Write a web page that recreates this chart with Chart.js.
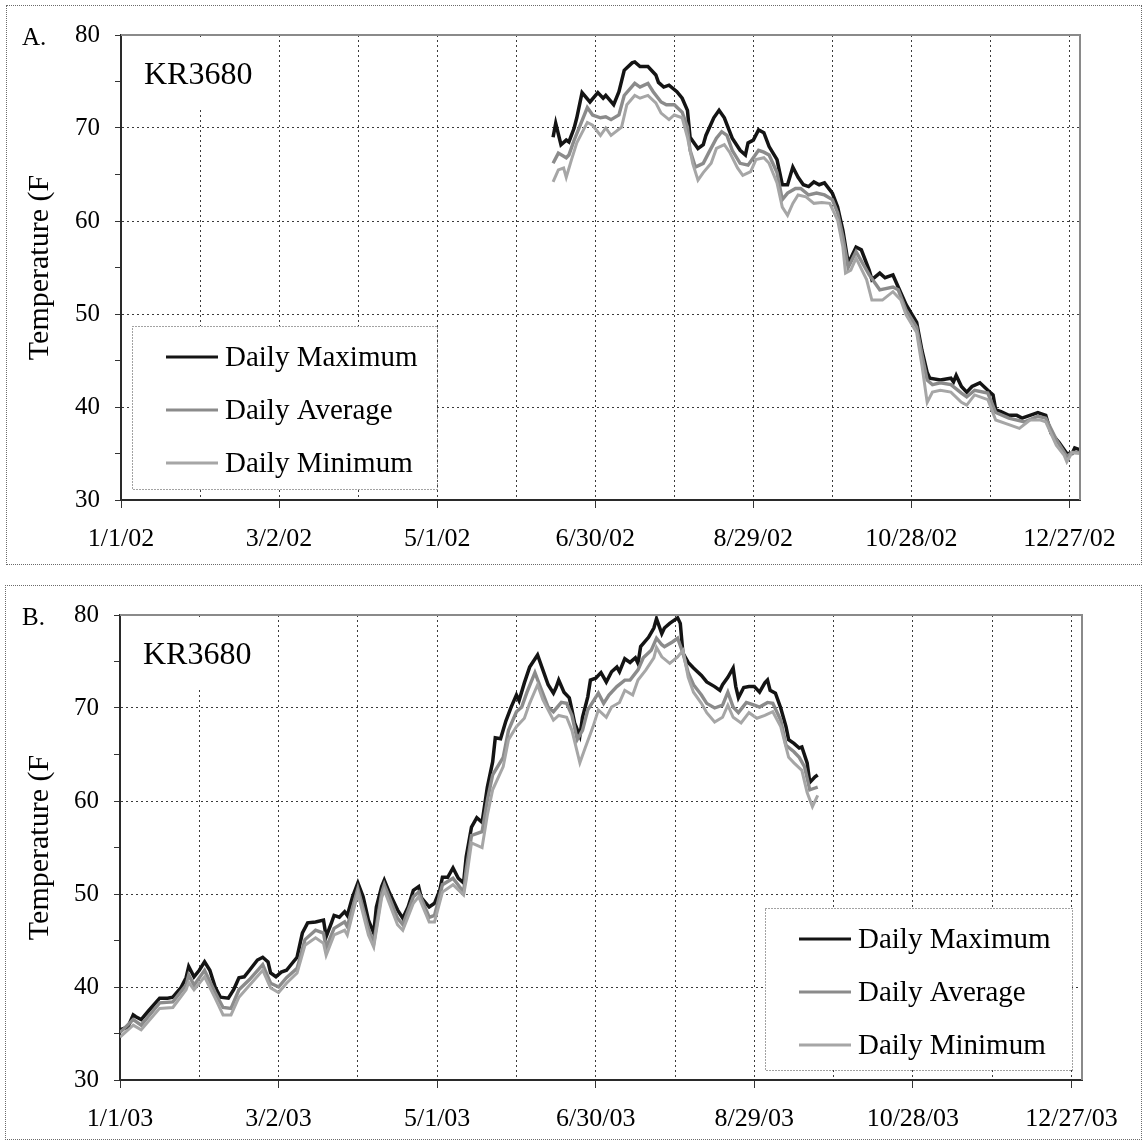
<!DOCTYPE html>
<html>
<head>
<meta charset="utf-8">
<title>KR3680 daily temperature</title>
<script src="https://cdn.jsdelivr.net/npm/chart.js@4.4.1/dist/chart.umd.min.js"></script>
<style>
  html, body { margin: 0; padding: 0; background: #fff; }
  body { width: 1142px; height: 1140px; position: relative; overflow: hidden; }
  .frame { position: absolute; border: 1px dotted #6a6a6a; box-sizing: border-box; }
  canvas { position: absolute; left: 0; }
</style>
</head>
<body>
<div class="frame" style="left:6px;top:5px;width:1136px;height:560px"></div>
<div class="frame" style="left:5px;top:585px;width:1137px;height:555px"></div>
<canvas id="chartA" width="1142" height="565" style="top:0"></canvas>
<canvas id="chartB" width="1142" height="560" style="top:580px"></canvas>
<script>
// ---- axis labels -------------------------------------------------------
const xLabelsA = ['1/1/02', '3/2/02', '5/1/02', '6/30/02', '8/29/02', '10/28/02', '12/27/02'];
const xLabelsB = ['1/1/03', '3/2/03', '5/1/03', '6/30/03', '8/29/03', '10/28/03', '12/27/03'];
const yLabels = ['30', '40', '50', '60', '70', '80'];
const seriesNames = ['Daily Maximum', 'Daily Average', 'Daily Minimum'];
const stationName = 'KR3680';
const axisTitle = 'Temperature (F';

// ---- 2002 record (day of year, deg F) -----------------------------------
const daysMaxA = [164,165,167,169,170,172,173,175,178,181,183,184,187,189,191,194,195,197,200,203,204,206,208,211,213,215,216,219,221,222,225,227,229,232,235,237,238,240,242,244,246,249,251,253,255,257,259,261,263,265,267,270,272,274,276,277,279,281,284,285,288,290,293,295,298,302,304,306,307,311,315,316,317,319,321,323,326,329,331,332,334,337,340,342,345,348,351,353,356,359,361,362,364];
const maxA = [69.0,70.5,68.2,68.7,68.5,70.0,71.1,73.8,72.8,73.8,73.2,73.5,72.5,73.9,76.2,77.0,77.1,76.6,76.6,75.7,74.9,74.4,74.6,73.9,73.2,71.9,69.0,67.8,68.2,69.2,71.1,71.9,71.1,68.9,67.6,67.1,68.4,68.7,69.8,69.5,68.0,66.6,63.9,63.9,65.8,64.7,63.9,63.7,64.2,63.9,64.1,63.0,61.5,59.0,55.5,56.0,57.2,56.9,54.7,53.7,54.4,53.9,54.2,52.9,51.0,49.1,46.1,43.7,43.1,42.9,43.1,42.7,43.4,42.2,41.6,42.2,42.6,41.8,41.3,39.7,39.5,39.1,39.1,38.8,39.1,39.4,39.1,37.2,36.2,35.0,35.0,35.6,35.4];

const daysAvgA = [164,166,169,170,172,174,177,179,182,184,186,189,191,195,197,200,202,205,207,210,213,215,216,218,221,223,226,228,230,232,235,238,240,242,244,246,249,251,253,256,258,261,264,267,270,272,274,276,279,284,288,293,295,298,302,304,306,308,311,315,319,321,324,329,332,337,343,348,351,355,359,361,364];
const avgA = [66.2,67.3,66.8,67.1,68.7,70.1,72.2,71.4,71.1,71.2,70.9,71.4,73.5,74.8,74.4,74.8,73.9,72.8,72.5,72.5,71.7,70.1,67.6,65.8,66.2,67.3,68.9,69.6,69.2,67.6,66.2,66.0,66.8,67.6,67.4,67.1,65.2,62.3,63.0,63.5,63.5,62.8,63.0,62.8,62.3,60.9,58.3,55.0,56.7,54.2,52.6,52.9,52.6,50.4,48.6,45.6,42.9,42.4,42.6,42.4,41.5,41.1,41.8,41.5,39.4,38.8,38.4,39.0,38.8,36.5,34.7,35.1,35.1];

const daysMinA = [164,166,168,169,171,173,177,179,182,184,186,190,192,195,197,200,203,205,208,210,213,215,217,219,221,224,226,229,231,234,236,239,241,244,246,249,251,253,255,257,260,263,266,269,272,274,275,277,279,283,285,289,293,296,298,302,304,306,308,311,315,319,321,324,329,332,337,341,345,349,351,355,358,359,361,364];
const minA = [64.2,65.5,65.7,64.7,66.6,68.4,70.6,70.3,69.2,70.0,69.2,70.1,72.5,73.5,73.2,73.5,72.7,71.6,70.9,71.4,71.1,69.0,66.2,64.4,65.2,66.2,67.8,68.2,67.4,65.7,64.9,65.3,66.6,66.8,66.2,64.1,61.5,60.6,61.9,62.8,62.6,61.9,62.0,61.9,60.1,57.2,54.4,54.7,56.0,53.7,51.5,51.5,52.4,51.5,49.9,48.0,44.5,40.5,41.6,41.8,41.6,40.5,40.2,41.3,40.8,38.6,38.1,37.7,38.6,38.6,38.4,35.9,34.8,34.1,35.1,35.0];

// ---- 2003 record (day of year, deg F) -----------------------------------
const daysMaxB = [0,3,5,6,8,11,15,18,20,23,25,26,28,30,32,34,36,38,41,43,45,47,49,52,54,56,57,59,61,63,65,67,69,71,74,77,78,80,81,83,85,86,88,90,92,94,96,97,99,100,102,105,107,109,111,113,114,117,119,121,122,124,126,128,130,131,133,135,137,139,141,142,144,146,148,150,151,153,155,158,160,162,164,165,166,168,170,171,172,174,175,177,178,180,182,184,186,188,189,191,193,195,196,197,200,202,203,205,206,208,211,212,213,215,217,220,222,225,227,228,230,232,233,234,236,238,240,242,244,245,246,248,250,252,253,255,257,258,260,261,263,264];
const maxB = [35.4,35.7,37.0,36.8,36.5,37.5,38.8,38.8,38.9,39.9,41.0,42.2,41.1,41.8,42.7,41.8,40.0,38.9,38.8,39.7,41.0,41.1,41.8,42.9,43.2,42.7,41.5,41.1,41.6,41.8,42.5,43.2,45.8,46.9,47.0,47.2,45.4,46.9,47.7,47.5,48.1,47.7,49.7,51.2,49.7,47.2,45.8,48.6,50.8,51.5,50.1,48.3,47.4,48.6,50.4,50.8,49.6,48.6,49.0,50.4,51.8,51.8,52.8,51.7,51.2,54.0,57.2,58.2,57.7,61.5,64.2,66.8,66.7,68.6,70.1,71.4,70.8,72.7,74.4,75.7,74.1,72.5,71.6,72.2,73.0,71.7,71.1,69.8,68.4,67.0,69.0,71.2,73.0,73.2,73.8,72.8,73.9,74.4,73.9,75.3,74.9,75.4,74.8,76.6,77.6,78.6,79.6,78.0,78.6,79.1,79.7,79.1,75.9,74.9,74.3,73.5,72.8,72.3,71.9,72.5,73.3,74.3,72.3,71.1,72.2,72.3,72.3,71.7,72.7,73.0,71.9,71.6,70.0,68.0,66.6,66.2,65.7,65.8,64.1,62.0,62.6,62.8];

const daysAvgB = [0,5,8,15,20,25,26,28,32,36,39,42,45,49,54,57,60,63,67,70,74,77,78,81,85,86,90,94,96,99,100,105,107,111,113,117,119,122,126,130,131,133,137,139,141,145,147,150,152,154,157,159,162,164,167,169,171,173,175,177,181,183,185,188,191,193,196,198,201,203,205,206,209,211,213,215,217,220,222,225,228,230,232,234,237,240,242,245,247,250,252,255,257,259,261,263,264];
const avgB = [35.1,36.5,35.9,38.3,38.4,40.2,41.3,40.2,41.8,39.4,37.8,37.7,39.7,40.8,42.4,40.4,40.0,41.0,42.0,45.1,46.1,45.8,44.2,46.3,47.0,46.5,50.6,46.3,44.7,50.1,51.0,47.4,46.7,49.7,50.2,47.5,47.7,51.0,51.7,50.2,52.6,56.3,56.7,60.1,62.8,64.7,67.6,69.6,70.1,71.7,73.8,72.3,70.1,69.6,70.6,70.5,69.2,66.6,67.6,69.8,71.6,70.5,71.4,72.3,73.0,73.0,74.1,75.4,76.2,77.5,76.8,76.6,77.1,77.5,75.9,73.8,72.5,71.4,70.5,70.0,70.3,71.7,70.1,69.5,70.6,70.3,70.1,70.6,70.5,68.7,66.0,65.3,64.7,63.7,61.2,61.4,61.5];

const daysMinB = [0,5,8,15,20,25,26,28,32,36,39,42,45,49,54,57,60,63,67,70,74,77,78,81,85,86,90,94,96,99,100,105,107,111,113,117,119,122,126,130,131,133,137,139,141,145,147,150,153,155,158,160,164,166,169,171,174,176,179,181,184,186,189,191,194,196,199,202,203,205,208,211,213,215,217,220,222,225,228,230,232,235,238,241,244,247,250,253,255,258,260,262,264];
const minB = [34.6,35.9,35.4,37.7,37.8,39.7,40.5,39.7,41.1,38.8,37.0,37.0,38.9,40.2,41.8,39.9,39.4,40.4,41.5,44.5,45.3,44.7,43.4,45.6,46.1,45.6,50.1,45.6,44.3,49.6,50.4,46.7,46.1,49.0,49.7,47.0,47.0,50.2,51.0,49.9,51.5,55.5,55.0,58.5,61.2,63.7,66.6,68.0,68.9,70.5,72.5,70.9,68.7,69.2,69.0,67.6,64.1,65.7,68.0,69.8,69.0,70.1,70.6,71.9,71.4,73.0,74.1,75.4,76.5,75.5,74.8,75.5,76.2,73.3,71.7,70.5,69.5,68.5,69.0,70.3,69.0,68.4,69.5,68.9,69.2,69.6,68.0,64.7,64.1,63.3,60.9,59.4,60.6];

// ---- styling -----------------------------------------------------------
const SERIF = '"Liberation Serif", "Times New Roman", serif';
const lineColors = ['#141414', '#8b8b8b', '#a6a6a6'];
const lineWidths = [3.5, 3.4, 3];
const X_TICKS = [0, 30, 60, 90, 120, 150, 180, 210, 240, 270, 300, 330, 360];
const Y_TICKS = [30, 35, 40, 45, 50, 55, 60, 65, 70, 75, 80];

function zip(days, vals) {
  return days.map((d, i) => ({ x: d, y: vals[i] }));
}

// Panel letter, station name, plot frame and the boxed legend
const panelDecor = {
  id: 'panelDecor',
  beforeDatasetsDraw(chart, args, opts) {
    const { ctx, chartArea: a } = chart;
    ctx.save();
    ctx.fillStyle = '#fff';
    ctx.fillRect(a.left + 14, a.top + 2, 131, 70);
    ctx.restore();
  },
  afterDatasetsDraw(chart, args, opts) {
    const { ctx, chartArea: a } = chart;
    ctx.save();
    // upper and right edges of the plot frame
    ctx.strokeStyle = '#8a8a8a';
    ctx.lineWidth = 2;
    ctx.beginPath();
    ctx.moveTo(a.left, a.top);
    ctx.lineTo(a.right, a.top);
    ctx.lineTo(a.right, a.bottom);
    ctx.stroke();

    // panel letter and station
    ctx.fillStyle = '#000';
    ctx.textBaseline = 'alphabetic';
    ctx.textAlign = 'left';
    ctx.font = '25px ' + SERIF;
    ctx.fillText(opts.letter, 22, a.top + 10);
    ctx.font = '32px ' + SERIF;
    ctx.fillText(stationName, a.left + 23, a.top + 49);

    // legend box
    const b = opts.legendBox;
    const bx = a.left + b.dx, by = a.top + b.dy;
    ctx.fillStyle = '#fff';
    ctx.fillRect(bx, by, b.w, b.h);
    ctx.setLineDash([1, 2]);
    ctx.strokeStyle = '#444';
    ctx.lineWidth = 1;
    ctx.strokeRect(bx + 0.5, by + 0.5, b.w, b.h);
    ctx.setLineDash([]);
    ctx.font = '29px ' + SERIF;
    ctx.textBaseline = 'middle';
    chart.data.datasets.forEach((ds, i) => {
      const ry = by + 31 + i * 53;
      ctx.strokeStyle = ds.borderColor;
      ctx.lineWidth = 3;
      ctx.beginPath();
      ctx.moveTo(bx + 34, ry);
      ctx.lineTo(bx + 86, ry);
      ctx.stroke();
      ctx.fillStyle = '#000';
      ctx.fillText(ds.label, bx + 93, ry + 1);
    });
    ctx.restore();
  }
};

function makeChart(id, series, xLabels, layout) {
  const datasets = series.map((s, i) => ({
    label: seriesNames[i],
    data: s,
    borderColor: lineColors[i],
    borderWidth: lineWidths[i],
    pointRadius: 0,
    tension: 0,
    fill: false,
    order: 3 - i
  }));
  return new Chart(document.getElementById(id), {
    type: 'line',
    data: { datasets },
    plugins: [panelDecor],
    options: {
      responsive: false,
      animation: false,
      events: [],
      layout: { padding: { top: 35, right: layout.right, left: 0, bottom: 0 } },
      plugins: {
        legend: { display: false },
        tooltip: { enabled: false },
        panelDecor: { letter: layout.letter, legendBox: layout.legendBox }
      },
      scales: {
        x: {
          type: 'linear',
          min: 0,
          max: 364,
          afterBuildTicks: s => { s.ticks = X_TICKS.map(v => ({ value: v })); },
          afterFit: s => { s.height = layout.xHeight; },
          ticks: {
            autoSkip: false,
            maxRotation: 0,
            padding: 16,
            color: '#000',
            font: { family: SERIF, size: 26 },
            callback: v => (v % 60 === 0 ? xLabels[v / 60] : '')
          },
          grid: {
            color: c => (c.tick && c.tick.value > 0 ? '#3a3a3a' : 'rgba(0,0,0,0)'),
            lineWidth: 1,
            tickLength: 8,
            tickColor: c => (c.tick && c.tick.value % 60 === 0 ? '#333' : 'rgba(0,0,0,0)')
          },
          border: { color: '#2a2a2a', width: 2, dash: [2, 3] }
        },
        y: {
          type: 'linear',
          min: 30,
          max: 80,
          afterBuildTicks: s => { s.ticks = Y_TICKS.map(v => ({ value: v })); },
          afterFit: s => { s.width = layout.left; },
          ticks: {
            autoSkip: false,
            padding: 15,
            color: '#000',
            font: { family: SERIF, size: 25 },
            callback: v => (v % 10 === 0 ? yLabels[(v - 30) / 10] : '')
          },
          grid: {
            color: c => (c.tick && c.tick.value % 10 === 0 && c.tick.value > 30 && c.tick.value < 80 ? '#3a3a3a' : 'rgba(0,0,0,0)'),
            lineWidth: 1,
            tickLength: 6,
            tickColor: '#333'
          },
          border: { color: '#2a2a2a', width: 2, dash: [2, 3] },
          title: {
            display: true,
            text: axisTitle,
            color: '#000',
            font: { family: SERIF, size: 30 },
            padding: { top: 22, bottom: 0 }
          }
        }
      }
    }
  });
}

makeChart('chartA',
  [zip(daysMaxA, maxA), zip(daysAvgA, avgA), zip(daysMinA, minA)],
  xLabelsA,
  { letter: 'A.', left: 121, right: 62, xHeight: 65, legendBox: { dx: 11, dy: 291, w: 305, h: 163 } });

makeChart('chartB',
  [zip(daysMaxB, maxB), zip(daysAvgB, avgB), zip(daysMinB, minB)],
  xLabelsB,
  { letter: 'B.', left: 120, right: 60, xHeight: 60, legendBox: { dx: 645, dy: 293, w: 307, h: 162 } });
</script>
</body>
</html>
